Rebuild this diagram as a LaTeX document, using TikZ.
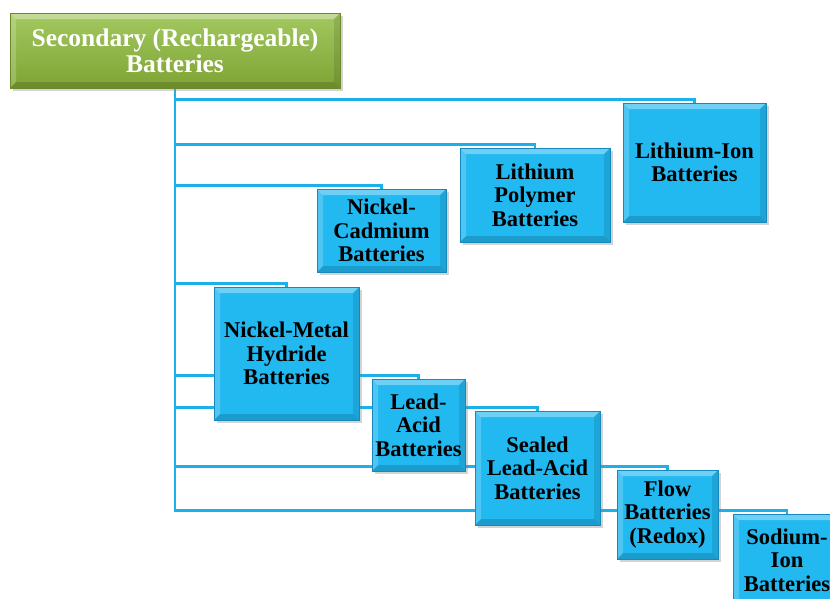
\documentclass[tikz,border=0pt]{standalone}
\usepackage{fontspec}
\setmainfont{Liberation Serif}
\usetikzlibrary{shadows,backgrounds}

\definecolor{boxblue}{HTML}{22B8F0}
\definecolor{boxedge}{HTML}{1689BC}
\definecolor{linkblue}{HTML}{1CB0EA}
\definecolor{headtop}{HTML}{A2C860}
\definecolor{headbot}{HTML}{7FA434}
\definecolor{headedge}{HTML}{6A8A2A}

\tikzset{
  bevel/.style={path picture={
    \path (path picture bounding box.north west) coordinate (bnw)
          (path picture bounding box.north east) coordinate (bne)
          (path picture bounding box.south west) coordinate (bsw)
          (path picture bounding box.south east) coordinate (bse)
          ([shift={(6pt,-6pt)}]bnw) coordinate (inw)
          ([shift={(-6pt,-6pt)}]bne) coordinate (ine)
          ([shift={(6pt,6pt)}]bsw) coordinate (isw)
          ([shift={(-6pt,6pt)}]bse) coordinate (ise);
    \fill[white,opacity=.35] (bnw) -- (bne) -- (ine) -- (inw) -- cycle;
    \fill[white,opacity=.2] (bnw) -- (inw) -- (isw) -- (bsw) -- cycle;
    \fill[black,opacity=.1] (bne) -- (bse) -- (ise) -- (ine) -- cycle;
    \fill[black,opacity=.15] (bsw) -- (isw) -- (ise) -- (bse) -- cycle;
  }},
  cell/.style={draw=boxedge, line width=.6pt, fill=boxblue, bevel,
    drop shadow={shadow xshift=2.5pt, shadow yshift=-2.5pt, opacity=.35},
    inner sep=0pt, align=center,
    font=\bfseries\fontsize{22.5}{23.5}\selectfont},
  head/.style={draw=headedge, line width=.6pt, top color=headtop,
    bottom color=headbot, bevel, text=white,
    drop shadow={shadow xshift=2.5pt, shadow yshift=-2.5pt, opacity=.35},
    inner sep=0pt, align=center,
    font=\bfseries\fontsize{25.5}{26}\selectfont},
  link/.style={draw=linkblue, line width=2.6pt}
}

\begin{document}
\begin{tikzpicture}[x=1pt,y=-1pt]
    \useasboundingbox (0,0) rectangle (830,598);
    \node[head, minimum width=330pt, minimum height=75pt] (head) at (175,50.5) {Secondary (Rechargeable)\\Batteries};
    \node[cell, minimum width=143pt, minimum height=119pt] (liion) at (694.5,162.5) {Lithium-Ion\\Batteries};
    \node[cell, minimum width=150pt, minimum height=94pt] (lipo) at (535,195) {Lithium\\Polymer\\Batteries};
    \node[cell, minimum width=129pt, minimum height=83pt] (nicd) at (381.5,230.5) {Nickel-\\Cadmium\\Batteries};
    \node[cell, minimum width=145pt, minimum height=133pt] (nimh) at (286.5,353.5) {Nickel-Metal\\Hydride\\Batteries};
    \node[cell, minimum width=93pt, minimum height=92pt] (lead) at (418.5,425) {Lead-\\Acid\\Batteries};
    \node[cell, minimum width=125pt, minimum height=114pt] (sealed) at (537.5,468) {Sealed\\Lead-Acid\\Batteries};
    \node[cell, minimum width=101pt, minimum height=89pt] (flow) at (667.5,514.5) {Flow\\Batteries\\(Redox)};
    \node[cell, minimum width=108pt, minimum height=92pt] (sodium) at (787,560) {Sodium-\\Ion\\Batteries};
    % connectors behind the boxes
    \begin{scope}[on background layer]
      \foreach \b in {liion,lipo,nicd,nimh,lead,sealed,flow,sodium}
        \draw[link] (head.south) |- ([yshift=3pt]\b.north) -- (\b.north);
    \end{scope}
\end{tikzpicture}
\end{document}
